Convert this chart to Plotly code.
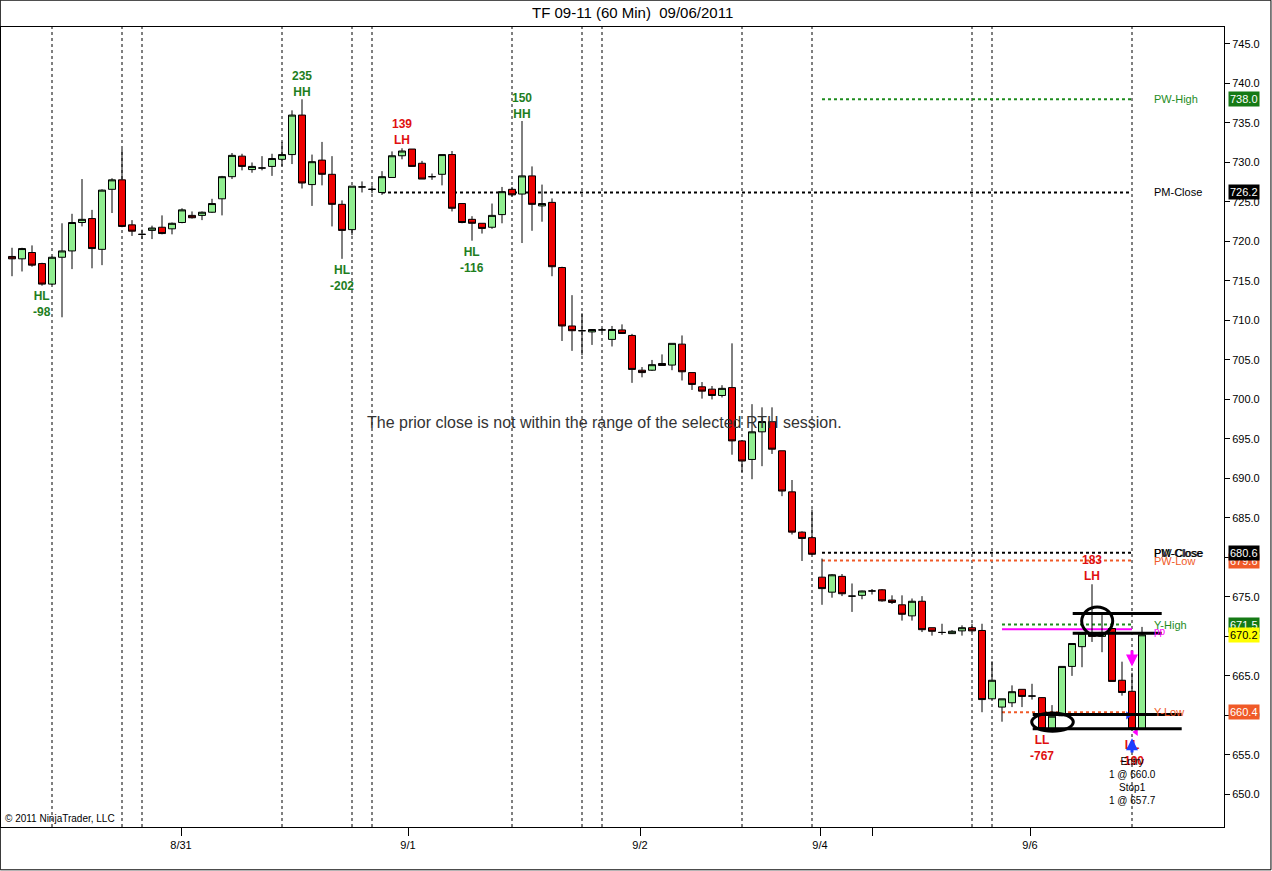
import plotly.graph_objects as go

# ---------------- data ----------------
opens = [718.1, 717.8, 718.6, 717.2, 714.6, 718.0, 718.8, 722.4, 722.9, 719.0,
         726.6, 727.8, 722.1, 720.9, 721.4, 721.8, 721.6, 722.4, 723.3, 723.3,
         723.7, 725.4, 728.2, 730.8, 729.1, 729.3, 729.5, 730.4, 731.0, 736.0,
         727.2, 730.3, 728.5, 724.7, 721.5, 726.9, 726.6, 726.2, 728.1, 730.85,
         731.7, 729.9, 728.2, 728.5, 731.0, 724.8, 722.8, 722.3, 721.8, 723.4,
         726.6, 726.0, 728.3, 724.5, 724.95, 716.7, 709.3, 708.7, 708.55, 708.8,
         707.6, 708.8, 708.1, 703.7, 703.7, 704.55, 704.35, 707.0, 703.4, 701.6,
         701.3, 700.5, 701.5, 694.75, 692.4, 695.9, 697.2, 693.5, 688.3, 683.2,
         682.5, 677.5, 675.6, 677.6, 675.1, 675.2, 675.75, 675.9, 674.6, 674.0,
         672.6, 674.45, 671.1, 670.5, 670.35, 670.7, 671.1, 670.75, 662.1, 661.05,
         661.6, 663.3, 662.45, 662.25, 658.3, 659.95, 666.2, 668.7, 670.3, 670.0,
         671.0, 664.45, 663.05, 658.3]
highs = [719.2, 719.2, 719.5, 717.3, 718.1, 722.3, 723.5, 727.9, 724.0, 726.6,
         728.0, 731.7, 722.7, 721.5, 722.0, 723.3, 722.4, 724.2, 723.8, 723.8,
         725.4, 728.3, 731.2, 731.1, 730.0, 730.8, 731.1, 732.6, 736.6, 738.0,
         731.0, 732.6, 730.8, 725.2, 727.0, 727.6, 727.1, 728.9, 731.4, 731.8,
         731.7, 730.2, 728.6, 731.0, 731.45, 724.8, 723.2, 722.3, 724.8, 726.9,
         726.9, 735.25, 729.5, 727.2, 725.45, 716.8, 713.2, 710.9, 708.9, 709.0,
         709.3, 709.5, 708.3, 704.1, 705.0, 705.7, 707.1, 708.1, 703.4, 702.2,
         701.7, 701.8, 707.1, 694.8, 699.4, 699.0, 699.0, 693.5, 689.8, 683.3,
         686.05, 679.85, 677.9, 677.9, 676.7, 675.8, 676.0, 676.0, 675.2, 675.2,
         674.8, 675.1, 671.1, 671.6, 670.8, 671.4, 671.6, 671.6, 666.85, 662.1,
         663.8, 663.3, 664.0, 662.3, 661.3, 666.2, 669.1, 670.4, 676.6, 672.7,
         671.0, 666.8, 665.4, 671.2]
lows = [715.6, 716.2, 716.8, 714.4, 714.5, 710.4, 716.5, 721.9, 716.6, 717.0,
        723.6, 721.8, 720.7, 720.3, 720.3, 720.9, 720.9, 722.3, 722.9, 722.7,
        723.6, 723.3, 727.9, 729.0, 728.7, 729.0, 728.3, 729.5, 729.8, 726.7,
        724.5, 727.1, 721.9, 717.8, 720.8, 726.2, 726.1, 725.9, 728.1, 730.4,
        729.5, 727.9, 727.8, 727.1, 723.8, 722.3, 720.1, 721.0, 721.6, 722.3,
        725.7, 719.8, 721.35, 722.5, 715.6, 707.4, 706.15, 705.6, 706.9, 708.5,
        706.7, 708.3, 702.1, 702.8, 703.6, 704.3, 703.7, 702.4, 701.2, 700.1,
        700.0, 700.25, 693.0, 690.8, 689.9, 691.55, 693.1, 687.75, 682.9, 679.55,
        680.3, 674.0, 674.9, 675.1, 673.1, 674.7, 675.3, 674.4, 674.1, 672.0,
        672.0, 670.55, 670.1, 670.2, 670.3, 670.1, 670.5, 660.4, 662.0, 659.2,
        661.05, 661.05, 662.0, 658.2, 658.3, 659.9, 665.0, 666.1, 669.3, 668.0,
        664.3, 662.5, 658.1, 658.2]
closes = [717.8, 719.1, 717.0, 714.6, 718.0, 718.8, 722.4, 722.8, 719.1, 726.5,
          727.8, 721.9, 721.3, 720.9, 721.7, 721.0, 722.3, 724.0, 723.0, 723.7,
          724.8, 728.2, 730.9, 729.5, 729.5, 729.3, 730.5, 731.0, 736.0, 727.4,
          730.1, 728.5, 724.7, 721.4, 727.0, 726.9, 726.6, 728.2, 730.85, 731.45,
          729.5, 727.9, 728.2, 731.0, 724.2, 722.4, 722.3, 721.65, 723.3, 726.3,
          725.9, 728.3, 724.7, 724.8, 716.8, 709.3, 708.7, 708.7, 708.85, 708.8,
          708.85, 708.35, 703.8, 703.4, 704.4, 704.3, 707.1, 703.5, 701.9, 701.05,
          700.5, 701.4, 694.75, 692.2, 695.9, 697.2, 693.7, 688.4, 683.2, 682.4,
          680.4, 676.05, 677.8, 675.4, 675.1, 675.75, 675.75, 674.5, 674.3, 672.8,
          674.45, 670.85, 670.65, 670.5, 670.65, 671.1, 670.7, 662.0, 664.45, 662.1,
          663.0, 662.4, 662.45, 658.3, 659.9, 666.2, 669.1, 670.4, 670.0, 670.5,
          664.3, 662.9, 658.3, 670.2]
bar_num = list(range(len(closes)))

session_breaks = [4, 11, 13, 27, 34, 36, 50, 57, 59, 73, 80, 96, 98, 112]
date_tick_pos = [16.9, 39.6, 62.8, 80.8, 86.0, 101.8]
date_tick_text = ["8/31", "9/1", "9/2", "9/4", "", "9/6"]

# level lines
level_names = ["PW-High", "PM-Close", "PW-Close", "PW-Low", "Y-High", "Y-Low"]
level_prices = [738.0, 726.2, 680.6, 679.6, 671.5, 660.4]
level_start = [81, 37, 81, 81, 99, 99]
level_colors = ["#1E8C1E", "#000000", "#000000", "#F05A28", "#1E8C1E", "#F05A28"]
pivot_price = 670.9

swing_text = ["HL<br>-98", "235<br>HH", "HL<br>-202", "139<br>LH", "HL<br>-116",
              "150<br>HH", "183<br>LH", "LL<br>-767", "LL<br>-190"]
swing_bar = [3, 29, 33, 39, 46, 51, 108, 103, 112]
swing_price = [712.1, 739.9, 715.4, 733.8, 717.7, 737.2, 678.7, 655.9, 655.3]
swing_up = [True, True, True, False, True, True, False, False, False]

tag_prices = [738.0, 726.2, 679.6, 680.6, 671.5, 670.2, 660.4]
tag_bg = ["#157A15", "#000000", "#F05A28", "#000000", "#157A15", "#FFFF00", "#F05A28"]
tag_fg = ["white", "white", "white", "white", "white", "black", "white"]

FONT = "Arial, Liberation Sans, sans-serif"
GREEN = "#1E7E1E"
RED = "#E01010"

fig = go.Figure()
fig.add_trace(go.Candlestick(
    x=bar_num, open=opens, high=highs, low=lows, close=closes,
    increasing=dict(fillcolor="#90EE90", line=dict(color="black", width=1)),
    decreasing=dict(fillcolor="#EE0000", line=dict(color="black", width=1)),
    whiskerwidth=0, showlegend=False, hoverinfo="skip"))

shapes = []
for b in session_breaks:
    shapes.append(dict(type="line", xref="x", yref="paper", x0=b, x1=b, y0=0, y1=1,
                       line=dict(color="black", width=1, dash="dot"), layer="below"))
for name, p, s, c in zip(level_names, level_prices, level_start, level_colors):
    shapes.append(dict(type="line", xref="x", yref="y", x0=s, x1=112, y0=p, y1=p,
                       line=dict(color=c, width=2, dash="dot"), layer="below"))
shapes.append(dict(type="line", xref="x", yref="y", x0=99, x1=112, y0=pivot_price, y1=pivot_price,
                   line=dict(color="#FF00FF", width=2), layer="below"))
# hand-drawn lines and ellipses
for y0, xa, xb in [(672.9, 106.07, 114.97), (670.4, 106.07, 114.97),
                   (660.1, 102.07, 116.97), (658.3, 102.07, 116.97)]:
    shapes.append(dict(type="line", xref="x", yref="y", x0=xa, x1=xb, y0=y0, y1=y0,
                       line=dict(color="black", width=3)))
shapes.append(dict(type="circle", xref="x", yref="y", x0=106.97, x1=110.07, y0=670.14, y1=673.73,
                   line=dict(color="black", width=3)))
shapes.append(dict(type="circle", xref="x", yref="y", x0=101.97, x1=106.13, y0=658.0, y1=660.3,
                   line=dict(color="black", width=3)))
# outer frame
shapes.append(dict(type="rect", xref="paper", yref="paper", x0=-0.0006, x1=1.0384, y0=-0.0535, y1=1.0335,
                   line=dict(color="black", width=1)))

ann = []
ann.append(dict(xref="paper", yref="paper", x=0.516, y=1.0335, yshift=-12,
                text="TF 09-11 (60 Min)&nbsp;&nbsp;09/06/2011",
                showarrow=False, font=dict(family=FONT, size=15, color="black"), yanchor="middle"))
ann.append(dict(xref="x", yref="y", x=59.2, y=697.1,
                text="The prior close is not within the range of the selected RTH session.",
                showarrow=False, font=dict(family=FONT, size=16, color="#333333")))
ann.append(dict(xref="paper", yref="paper", x=0.002, y=0.0, yshift=9, xanchor="left", yanchor="middle",
                text="© 2011 NinjaTrader, LLC", showarrow=False,
                font=dict(family=FONT, size=10, color="black")))
for t, b, p, up in zip(swing_text, swing_bar, swing_price, swing_up):
    ann.append(dict(xref="x", yref="y", x=b, y=p, text="<b>" + t + "</b>", showarrow=False,
                    font=dict(family=FONT, size=12, color=GREEN if up else RED)))
ann.append(dict(xref="x", yref="y", x=112, y=651.7, text="Entry<br>1 @ 660.0<br>Stop1<br>1 @ 657.7",
                showarrow=False, font=dict(family=FONT, size=10, color="black")))
# arrows
ann.append(dict(xref="x", yref="y", axref="x", ayref="y", x=112, y=666.2, ax=112, ay=668.4, text="",
                showarrow=True, arrowhead=2, arrowsize=0.8, arrowwidth=3, arrowcolor="#FF00FF"))
ann.append(dict(xref="x", yref="y", axref="x", ayref="y", x=112, y=657.1, ax=112, ay=655.1, text="",
                showarrow=True, arrowhead=2, arrowsize=0.8, arrowwidth=3, arrowcolor="#1E3CFF"))
for name, p, c in zip(level_names, level_prices, level_colors):
    ann.append(dict(xref="x", yref="y", x=114.0, y=p, xanchor="left", text=name, showarrow=False,
                    font=dict(family=FONT, size=11, color=c)))
ann.append(dict(xref="x", yref="y", x=114.0, y=pivot_price, yshift=-2, xanchor="left", text="pp",
                showarrow=False, font=dict(family=FONT, size=10, color="#FF00FF")))
ann.append(dict(xref="x", yref="y", x=114.0, y=680.6, xanchor="left", text="PM-Close", showarrow=False,
                font=dict(family=FONT, size=11, color="black")))
for p, bg, fg in zip(tag_prices, tag_bg, tag_fg):
    ann.append(dict(xref="paper", yref="y", x=1, xshift=4, y=p, xanchor="left", text=f"{p:.1f}",
                    showarrow=False, bgcolor=bg, borderpad=1,
                    font=dict(family=FONT, size=11, color=fg)))

fig.add_trace(go.Scatter(x=[111.6], y=[660.0], mode="markers",
                         marker=dict(symbol="triangle-right", size=7, color="#1E3CFF"),
                         showlegend=False, hoverinfo="skip"))
fig.add_trace(go.Scatter(x=[112.4], y=[657.9], mode="markers",
                         marker=dict(symbol="triangle-left", size=7, color="#FF00FF"),
                         showlegend=False, hoverinfo="skip"))

fig.update_layout(
    width=1272, height=871,
    margin=dict(l=1, r=48, t=27, b=44),
    paper_bgcolor="white", plot_bgcolor="white",
    font=dict(family=FONT, size=11, color="black"),
    boxgap=0.3, boxgroupgap=0,
    shapes=shapes, annotations=ann, showlegend=False,
    xaxis=dict(range=[-1.1, 121.2], rangeslider=dict(visible=False), showgrid=False, zeroline=False,
               tickmode="array", tickvals=date_tick_pos, ticktext=date_tick_text,
               ticks="outside", ticklen=8, tickcolor="black", showline=True, linecolor="black",
               linewidth=1, mirror=True, tickfont=dict(family=FONT, size=11, color="black")),
    yaxis=dict(range=[645.87, 747.15], side="right", showgrid=False, zeroline=False,
               tickmode="linear", tick0=650, dtick=5, tickformat=".1f",
               ticks="outside", ticklen=5, tickcolor="black", showline=True, linecolor="black",
               linewidth=1, mirror=True, tickfont=dict(family=FONT, size=11, color="black")),
)

fig.write_html("out.html", config={"displayModeBar": False},
               post_script="document.body.style.margin='0';document.body.style.overflow='hidden';")
